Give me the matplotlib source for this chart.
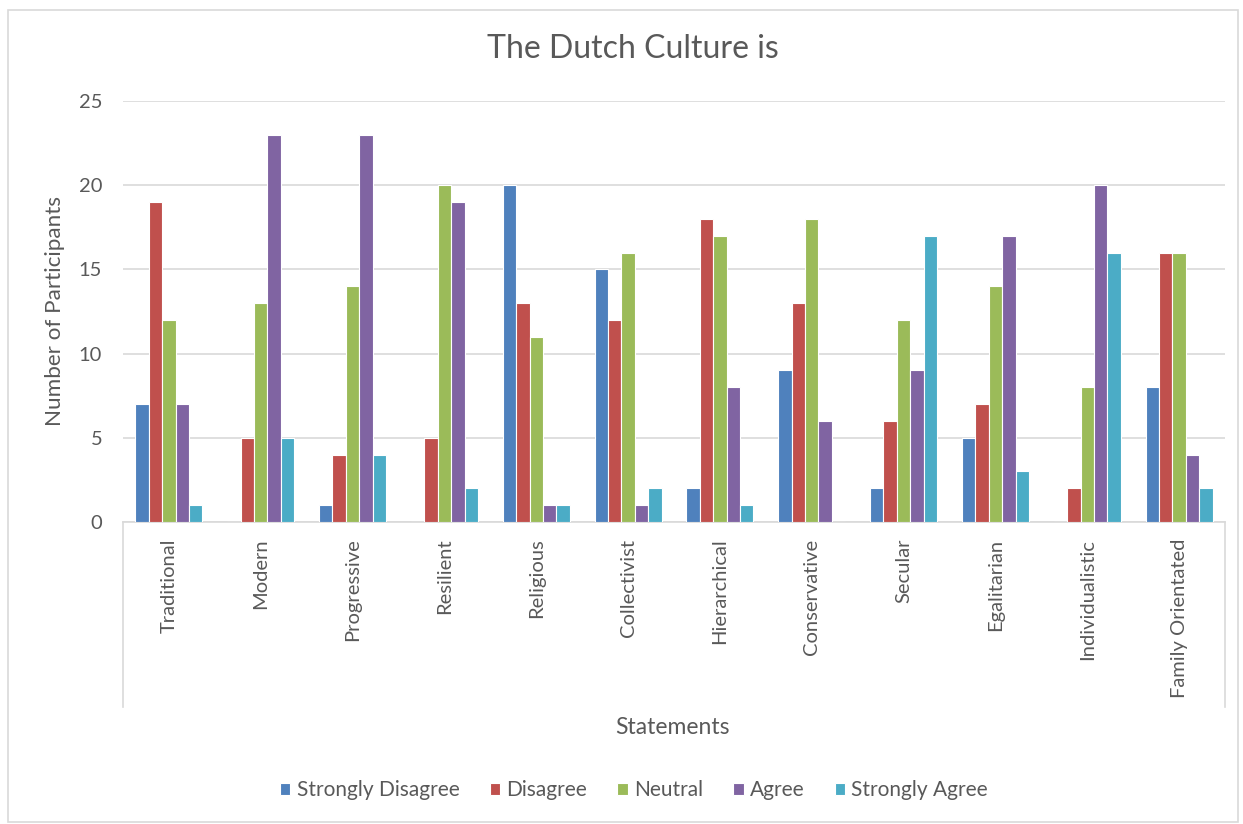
import matplotlib
matplotlib.use("Agg")
import matplotlib.pyplot as plt
import numpy as np
from matplotlib.patches import Rectangle
from matplotlib.lines import Line2D

plt.rcParams['font.family'] = ['Lato', 'DejaVu Sans']

categories = ["Traditional", "Modern", "Progressive", "Resilient", "Religious",
              "Collectivist", "Hierarchical", "Conservative", "Secular",
              "Egalitarian", "Individualistic", "Family Orientated"]

strongly_disagree = [7, 0, 1, 0, 20, 15, 2, 9, 2, 5, 0, 8]
disagree          = [19, 5, 4, 5, 13, 12, 18, 13, 6, 7, 2, 16]
neutral           = [12, 13, 14, 20, 11, 16, 17, 18, 12, 14, 8, 16]
agree             = [7, 23, 23, 19, 1, 1, 8, 6, 9, 17, 20, 4]
strongly_agree    = [1, 5, 4, 2, 1, 2, 1, 0, 17, 3, 16, 2]

series_names = ["Strongly Disagree", "Disagree", "Neutral", "Agree", "Strongly Agree"]
series_values = [strongly_disagree, disagree, neutral, agree, strongly_agree]
colors = ["#4F81BD", "#C0504D", "#9BBB59", "#8064A2", "#4BACC6"]

text_color = "#595959"
grid_color = "#D9D9D9"

W, H = 1243, 824
fig = plt.figure(figsize=(W / 100, H / 100), dpi=100)

# chart-area border
fig.patches.append(Rectangle((8 / W, 2 / H), 1230 / W, 812 / H,
                             transform=fig.transFigure, fill=False,
                             edgecolor=grid_color, linewidth=1.2))

left, right = 123 / W, 1225 / W
bottom, top = (H - 522) / H, (H - 101) / H
ax = fig.add_axes([left, bottom, right - left, top - bottom])

n_cat = len(categories)
n_ser = len(series_values)
x = np.arange(n_cat)
slot = 0.146
for i, (name, vals, c) in enumerate(zip(series_names, series_values, colors)):
    offs = (i - (n_ser - 1) / 2) * slot
    ax.bar(x + offs, vals, width=slot, color=c, edgecolor="white",
           linewidth=0.8, label=name, zorder=3)

ax.set_xlim(-0.5, n_cat - 0.5)
ax.set_ylim(0, 25)
ax.set_yticks(np.arange(0, 26, 5))
ax.yaxis.grid(True, color=grid_color, linewidth=1.2, zorder=0)
ax.set_axisbelow(True)

for s in ["top", "right", "left"]:
    ax.spines[s].set_visible(False)
ax.spines["bottom"].set_color(grid_color)
ax.spines["bottom"].set_linewidth(1.2)

ax.tick_params(axis="y", length=0, pad=15, labelsize=14.5, labelcolor=text_color)
ax.tick_params(axis="x", length=0, pad=12, labelsize=14.5, labelcolor=text_color)
ax.set_xticks(x)
ax.set_xticklabels(categories, rotation=90, va="top", ha="center")

# category-axis frame lines below the plot
depth = (707 - 522) / (522 - 101)
for xa in (0, 1):
    ax.add_line(Line2D([xa, xa], [0, -depth], transform=ax.transAxes,
                       color=grid_color, linewidth=1.2, clip_on=False))

ax.set_ylabel("Number of Participants", fontsize=16.2, color=text_color, labelpad=10)
fig.text(672 / W, 1 - 727 / H, "Statements", fontsize=16.5, color=text_color,
         ha="center", va="center")
fig.text(633 / W, 1 - 49 / H, "The Dutch Culture is", fontsize=23, color=text_color,
         ha="center", va="center")

handles, labels = ax.get_legend_handles_labels()
fig.legend(handles, labels, loc="center", bbox_to_anchor=(634 / W, 1 - 790 / H),
           ncol=5, frameon=False, fontsize=15, labelcolor=text_color,
           handlelength=0.5, handleheight=0.5, handletextpad=0.3, columnspacing=1.45)

fig.savefig("out.png", dpi=100, facecolor="white")
